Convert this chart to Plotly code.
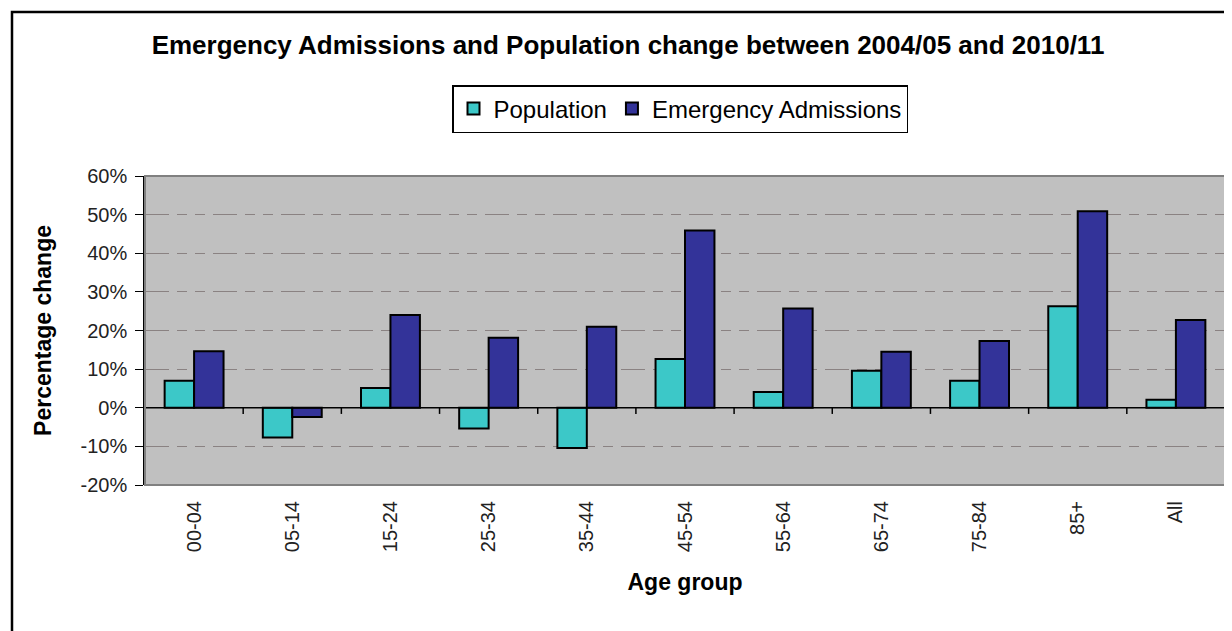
import plotly.graph_objects as go

categories = ["00-04", "05-14", "15-24", "25-34", "35-44", "45-54", "55-64", "65-74", "75-84", "85+", "All"]
population = [7.0, -7.7, 5.1, -5.4, -10.4, 12.6, 4.1, 9.6, 7.0, 26.3, 2.1]
emergency = [14.6, -2.4, 24.0, 18.1, 21.0, 45.9, 25.7, 14.5, 17.3, 50.9, 22.7]
yticks = [-20, -10, 0, 10, 20, 30, 40, 50, 60]
ytick_labels = [f"{v}%" for v in yticks]

# page has an 8px body margin, so work in screen coords and subtract it
OFF = 8
W, H = 1232 - OFF, 631 - OFF
L, T = 145 - OFF, 176 - OFF
pw, ph = 1080, 309
R, B = W - L - pw, H - T - ph

def px_x(sx):  # screen x -> paper fraction
    return (sx - OFF - L) / pw

def px_y(sy):  # screen y -> paper fraction
    return 1 - (sy - OFF - T) / ph

fig = go.Figure()
fig.add_trace(go.Bar(x=categories, y=population, name="Population",
                     marker=dict(color="#3cc8c8", line=dict(color="black", width=2))))
fig.add_trace(go.Bar(x=categories, y=emergency, name="Emergency Admissions",
                     marker=dict(color="#333399", line=dict(color="black", width=2))))

font = "Liberation Sans, Arial, sans-serif"

shapes = []
shapes.append(dict(type="line", xref="paper", yref="y", x0=0, x1=1, y0=0, y1=0,
                   line=dict(color="black", width=1.5), layer="above"))
for i in range(1, len(categories) + 1):
    shapes.append(dict(type="line", xref="x", yref="y", x0=i - 0.5, x1=i - 0.5, y0=0, y1=-1.6,
                       line=dict(color="black", width=1.5)))
# outer border
shapes.append(dict(type="rect", xref="paper", yref="paper",
                   x0=px_x(12), x1=px_x(1245), y0=px_y(645), y1=px_y(12),
                   line=dict(color="black", width=2.5), layer="below"))
# grey frame around plot area
shapes.append(dict(type="rect", xref="paper", yref="paper", x0=0, x1=1, y0=0, y1=1,
                   line=dict(color="#808080", width=2), layer="above"))

fig.update_layout(
    width=W, height=H,
    margin=dict(l=L, r=R, t=T, b=B, autoexpand=False),
    paper_bgcolor="white",
    plot_bgcolor="#c0c0c0",
    barmode="group",
    bargap=0.4,
    bargroupgap=0,
    font=dict(family=font, color="black"),
    title=dict(text="<b>Emergency Admissions and Population change between 2004/05 and 2010/11</b>",
               x=px_x(628), xref="paper", y=1 - (45 - OFF) / H, yanchor="middle", xanchor="center",
               font=dict(size=26, family=font)),
    legend=dict(orientation="h", x=px_x(680), xanchor="center", y=px_y(109), yanchor="middle",
                bgcolor="white", bordercolor="black", borderwidth=1.5,
                font=dict(size=24, family=font), itemwidth=30, traceorder="normal"),
    shapes=shapes,
    showlegend=True,
)

fig.update_yaxes(range=[-20, 60], tickmode="array", tickvals=yticks, ticktext=ytick_labels,
                 tickfont=dict(size=20, family=font, color="#222222"), ticks="outside", ticklen=8,
                 tickcolor="black", ticklabelstandoff=4, automargin=False,
                 showline=True, linecolor="black", linewidth=1.5, mirror=False,
                 showgrid=True, gridcolor="#8a8282", griddash="24px,8px,10px,8px,10px,8px", gridwidth=1.2,
                 zeroline=False,
                 title=dict(text="<b>Percentage change</b>", font=dict(size=23, family=font), standoff=22))
fig.update_xaxes(type="category", tickangle=-90, tickfont=dict(size=20, family=font, color="#222222"),
                 ticks="", automargin=False, ticklabelstandoff=11,
                 showline=False, showgrid=False, range=[-0.5, len(categories) - 0.5],
                 title=dict(text="<b>Age group</b>", font=dict(size=23, family=font), standoff=22))

fig.write_html("out.html")
